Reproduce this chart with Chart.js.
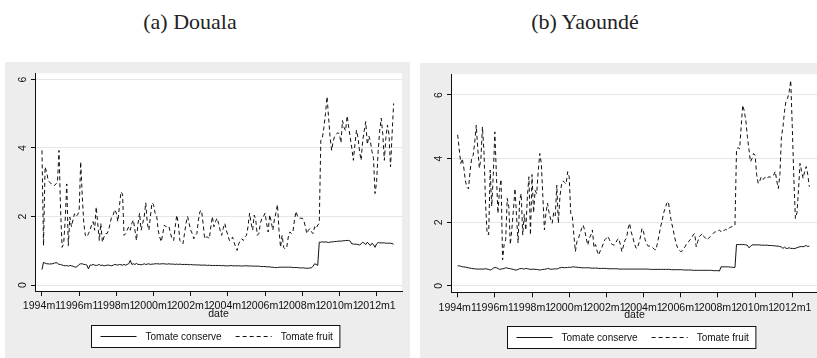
<!DOCTYPE html>
<html>
<head>
<meta charset="utf-8">
<script src="https://cdn.jsdelivr.net/npm/chart.js@4.4.1/dist/chart.umd.min.js"></script>
<style>
  html, body { margin: 0; padding: 0; background: #fff; overflow: hidden; }
  body { width: 817px; height: 358px; position: relative; }
  .title { position: absolute; top: 9px; font-family: "Liberation Serif", serif; font-size: 22px; color: #222; white-space: nowrap; transform: translateX(-50%); }
  canvas { position: absolute; background: #ededed; }
</style>
</head>
<body>
<div class="title" style="left:190px">(a) Douala</div>
<div class="title" style="left:585px">(b) Yaoundé</div>
<canvas id="douala" width="405" height="296" style="left:5px;top:62px"></canvas>
<canvas id="yaounde" width="398" height="295" style="left:420px;top:63px"></canvas>
<script>
"use strict";

// monthly dates, Stata style: 1994m1 ... 2012m12
const months = [];
for (let y = 1994; y <= 2012; y++) {
  for (let m = 1; m <= 12; m++) months.push(y + "m" + m);
}

const xTickLabels = ["1994m1", "1996m1", "1998m1", "2000m1", "2002m1",
  "2004m1", "2006m1", "2008m1", "2010m1", "2012m1"];
const yTicks = [0, 2, 4, 6];
const seriesNames = ["Tomate conserve", "Tomate fruit"];

// Douala
const doualaConserve = [
  0.45, 0.66, 0.64, 0.62, 0.62, 0.61, 0.62, 0.62, 0.64, 0.65, 0.64, 0.6,
  0.6, 0.58, 0.57, 0.56, 0.57, 0.55, 0.57, 0.56, 0.55, 0.53, 0.52, 0.55,
  0.6, 0.62, 0.62, 0.6, 0.6, 0.58, 0.47, 0.58, 0.58, 0.6, 0.58, 0.57,
  0.58, 0.6, 0.57, 0.58, 0.56, 0.57, 0.58, 0.58, 0.57, 0.56, 0.58, 0.6,
  0.59, 0.58, 0.6, 0.59, 0.58, 0.6, 0.58, 0.6, 0.62, 0.72, 0.6, 0.62,
  0.6, 0.63, 0.6, 0.6, 0.59, 0.6, 0.62, 0.6, 0.61, 0.62, 0.6, 0.61,
  0.61, 0.62, 0.62, 0.62, 0.61, 0.62, 0.62, 0.62, 0.61, 0.61, 0.62, 0.61,
  0.61, 0.61, 0.6, 0.61, 0.6, 0.61, 0.6, 0.6, 0.6, 0.6, 0.6, 0.59,
  0.6, 0.59, 0.59, 0.59, 0.58, 0.59, 0.58, 0.58, 0.58, 0.58, 0.58, 0.57,
  0.58, 0.57, 0.57, 0.57, 0.57, 0.57, 0.57, 0.57, 0.56, 0.57, 0.56, 0.56,
  0.56, 0.56, 0.57, 0.56, 0.56, 0.56, 0.56, 0.56, 0.56, 0.55, 0.56, 0.56,
  0.56, 0.56, 0.55, 0.56, 0.55, 0.55, 0.55, 0.55, 0.55, 0.54, 0.54, 0.54,
  0.54, 0.53, 0.53, 0.53, 0.52, 0.52, 0.51, 0.51, 0.51, 0.52, 0.52, 0.52,
  0.52, 0.52, 0.52, 0.52, 0.52, 0.52, 0.51, 0.51, 0.51, 0.51, 0.5, 0.5,
  0.5, 0.5, 0.49, 0.49, 0.49, 0.5, 0.5, 0.55, 0.62, 0.6, 0.57, 1.25,
  1.25, 1.26, 1.25, 1.26, 1.25, 1.24, 1.25, 1.26, 1.26, 1.27, 1.27, 1.28,
  1.28, 1.28, 1.29, 1.29, 1.3, 1.3, 1.3, 1.28, 1.2, 1.2, 1.19, 1.19,
  1.18, 1.17, 1.2, 1.25, 1.22, 1.18, 1.25, 1.2, 1.15, 1.22, 1.18, 1.1,
  1.2, 1.24, 1.23, 1.23, 1.23, 1.23, 1.22, 1.22, 1.22, 1.22, 1.21, 1.19
];
const doualaFruit = [
  3.93, 1.15, 3.45, 3.3, 3.05, 3.0, 2.95, 2.95, 2.9, 2.95, 3.0, 3.93,
  2.2, 1.1, 1.2, 1.9, 2.95, 1.15, 1.98, 1.7, 1.9, 2.08, 2.0, 2.05,
  2.15, 3.6, 2.6, 1.8, 1.45, 1.4, 1.5, 1.6, 1.75, 1.85, 1.6, 2.28,
  1.8, 1.3, 1.8, 1.25, 1.4, 1.5, 1.5, 1.6, 1.8, 2.0, 2.05, 2.2,
  2.1, 1.85, 2.3, 2.72, 2.65, 1.45, 1.5, 1.6, 1.7, 1.6, 1.8, 1.9,
  1.6, 1.3, 1.8, 2.1, 1.6, 1.8, 2.0, 2.4, 1.8, 1.6, 2.0, 2.4,
  2.35, 2.1, 2.04, 1.6, 1.4, 1.26, 1.5, 1.75, 1.7, 1.72, 1.7, 1.5,
  1.35, 1.3, 1.7, 2.04, 1.8, 1.3, 1.25, 1.2, 1.5, 1.8, 2.0, 1.8,
  1.6, 1.5, 1.35, 1.45, 1.5, 1.9, 2.15, 2.18, 1.8, 1.35, 1.4, 1.4,
  1.35, 1.7, 2.0, 1.7, 1.85, 1.95, 1.8, 1.6, 1.45, 1.65, 1.8, 1.6,
  1.45, 1.3, 1.3, 1.4, 1.25, 1.1, 1.01, 1.2, 1.3, 1.35, 1.3, 1.4,
  1.45, 1.7, 2.1, 1.8, 1.6, 2.04, 1.9, 1.45, 1.5, 1.8, 1.95, 2.0,
  2.1, 1.8, 1.55, 2.05, 1.85, 1.6, 1.9, 2.1, 2.35, 1.6, 1.1, 1.45,
  1.1, 1.05, 1.1, 1.4, 1.55, 1.5, 1.55, 1.9, 2.15, 2.0, 1.95, 1.95,
  1.95, 1.9, 1.7, 1.5, 1.6, 1.65, 1.55, 1.5, 1.7, 1.65, 1.75, 1.8,
  4.23, 4.3, 4.6, 5.0, 5.5, 4.9, 4.3, 3.93, 4.2, 4.35, 4.4, 4.45,
  4.4, 4.15, 4.8, 4.6, 4.5, 4.94, 4.6, 4.3, 4.0, 3.64, 4.1, 4.52,
  4.3, 3.9, 3.64, 4.2, 4.5, 4.77, 4.1, 4.35, 4.2, 3.9, 3.7, 2.67,
  3.0, 3.9, 4.5, 4.87, 4.4, 3.64, 4.3, 4.67, 4.4, 3.45, 4.4, 5.3
];

// Yaoundé
const yaoundeConserve = [
  0.63, 0.63, 0.62, 0.6, 0.6, 0.59, 0.58, 0.57, 0.56, 0.55, 0.54, 0.54,
  0.53, 0.53, 0.53, 0.53, 0.53, 0.53, 0.54, 0.53, 0.52, 0.5, 0.52, 0.56,
  0.58, 0.57, 0.55, 0.52, 0.53, 0.54, 0.55, 0.57, 0.56, 0.55, 0.54, 0.53,
  0.52, 0.5, 0.5, 0.52, 0.54, 0.55, 0.54, 0.53, 0.55, 0.54, 0.53, 0.52,
  0.52, 0.53, 0.52, 0.52, 0.51, 0.5, 0.51, 0.52, 0.52, 0.53, 0.55, 0.54,
  0.52, 0.53, 0.53, 0.54, 0.53, 0.55, 0.57, 0.58, 0.58, 0.57, 0.58, 0.58,
  0.59, 0.58, 0.6, 0.6, 0.59, 0.59, 0.58, 0.58, 0.57, 0.57, 0.57, 0.57,
  0.57, 0.57, 0.56, 0.56, 0.56, 0.56, 0.56, 0.55, 0.55, 0.55, 0.55, 0.55,
  0.55, 0.54, 0.54, 0.54, 0.54, 0.54, 0.54, 0.54, 0.53, 0.53, 0.53, 0.53,
  0.53, 0.53, 0.53, 0.53, 0.53, 0.53, 0.53, 0.53, 0.53, 0.53, 0.53, 0.53,
  0.53, 0.53, 0.53, 0.53, 0.52, 0.52, 0.52, 0.52, 0.52, 0.52, 0.52, 0.52,
  0.52, 0.52, 0.52, 0.52, 0.52, 0.52, 0.51, 0.51, 0.51, 0.51, 0.51, 0.51,
  0.51, 0.51, 0.5, 0.5, 0.5, 0.5, 0.5, 0.5, 0.49, 0.49, 0.49, 0.49,
  0.49, 0.49, 0.49, 0.49, 0.49, 0.49, 0.49, 0.49, 0.49, 0.48, 0.48, 0.48,
  0.48, 0.47, 0.6, 0.6, 0.6, 0.6, 0.6, 0.6, 0.59, 0.59, 0.58, 0.58,
  1.3, 1.3, 1.3, 1.3, 1.3, 1.3, 1.29, 1.28, 1.2, 1.24, 1.29, 1.29,
  1.29, 1.29, 1.29, 1.29, 1.28, 1.28, 1.28, 1.28, 1.28, 1.27, 1.27, 1.27,
  1.26, 1.26, 1.25, 1.25, 1.24, 1.22, 1.18, 1.22, 1.18, 1.18, 1.2, 1.18,
  1.18, 1.17, 1.18, 1.2, 1.22, 1.23, 1.24, 1.23, 1.25, 1.27, 1.24, 1.25
];
const yaoundeFruit = [
  4.75, 4.3, 3.85, 4.0, 3.7, 3.3, 3.1, 3.05, 3.6, 4.0, 4.1, 4.5,
  5.05, 4.3, 3.7, 4.0, 5.0, 4.2, 2.6, 1.65, 1.6, 3.64, 2.5, 3.5,
  4.84, 3.5, 2.28, 3.0, 3.35, 0.82, 1.3, 1.45, 2.75, 2.5, 1.3, 1.8,
  2.4, 3.06, 2.2, 1.35, 2.7, 2.9, 1.6, 2.25, 1.75, 2.8, 3.43, 1.6,
  3.5, 2.3, 3.0, 2.9, 3.6, 4.16, 3.85, 2.8, 1.76, 2.3, 2.6, 2.3,
  2.1, 1.97, 2.3, 2.2, 3.17, 1.97, 2.8, 3.17, 3.3, 3.25, 3.2, 3.59,
  3.43, 2.28, 2.2, 1.6, 1.08, 1.4, 1.5, 1.65, 1.8, 1.91, 1.75, 1.5,
  1.28, 1.5, 1.6, 1.76, 1.2, 1.3, 1.1, 0.97, 1.1, 1.2, 1.33, 1.45,
  1.5, 1.56, 1.45, 1.33, 1.3, 1.28, 1.35, 1.45, 1.49, 1.3, 1.08, 1.25,
  1.44, 1.5, 1.8, 1.97, 1.7, 1.54, 1.35, 1.2, 1.18, 1.35, 1.54, 1.81,
  1.7, 1.45, 1.33, 1.25, 1.25, 1.22, 1.2, 1.15, 1.13, 1.35, 1.6, 1.86,
  2.05, 2.3, 2.45, 2.6, 2.65, 2.3, 2.0, 1.8, 1.55, 1.33, 1.2, 1.12,
  1.08, 1.1, 1.18, 1.25, 1.35, 1.39, 1.45, 1.5, 1.6, 1.65, 1.23, 1.4,
  1.55, 1.6, 1.65, 1.55, 1.5, 1.44, 1.5, 1.55, 1.6, 1.65, 1.7, 1.7,
  1.72, 1.76, 1.7, 1.75, 1.74, 1.78, 1.75, 1.8, 1.85, 1.86, 1.88, 1.91,
  4.27, 4.35, 4.3, 5.0, 5.68, 5.5, 5.2, 4.7, 4.3, 3.9, 4.0, 4.16,
  4.1, 3.5, 3.22, 3.3, 3.43, 3.35, 3.38, 3.45, 3.4, 3.43, 3.42, 3.45,
  3.48, 3.6, 3.3, 3.06, 3.5, 4.68, 5.0, 5.5, 5.83, 5.9, 6.1, 6.46,
  5.0, 3.4, 2.12, 2.3, 3.0, 3.85, 3.6, 3.38, 3.6, 3.75, 3.5, 3.12
];

const FONT = '"Liberation Sans", Arial, sans-serif';
const INK = "#111";

// white plot region on the grey graph region
const plotRegion = {
  id: "plotRegion",
  beforeDraw(chart) {
    const { ctx, chartArea: a } = chart;
    ctx.save();
    ctx.fillStyle = "#fff";
    ctx.fillRect(a.left, a.top, a.right - a.left, a.bottom - a.top);
    ctx.restore();
  }
};

// boxed legend below the axis title
const boxLegend = {
  id: "boxLegend",
  afterDraw(chart) {
    const { ctx, chartArea: a } = chart;
    ctx.save();
    ctx.font = "10px " + FONT;
    const items = chart.data.datasets.map(ds => ({
      label: ds.label,
      dash: ds.borderDash || [],
      w: ctx.measureText(ds.label).width
    }));
    const padL = 9, lineLen = 36, gapText = 9, gapItem = 14, padR = 7, h = 22;
    let total = padL + padR;
    items.forEach((it, i) => { total += lineLen + gapText + it.w + (i ? gapItem : 0); });
    const cx = (a.left + a.right) / 2 - 3;
    const x0 = Math.round(cx - total / 2) + 0.5;
    const y0 = Math.round(a.bottom + 33.5) + 0.5;
    ctx.fillStyle = "#fff";
    ctx.fillRect(x0, y0, total, h);
    ctx.strokeStyle = INK;
    ctx.lineWidth = 1;
    ctx.strokeRect(x0, y0, total, h);
    let x = x0 + padL;
    const ym = y0 + h / 2;
    items.forEach((it, i) => {
      if (i) x += gapItem;
      ctx.setLineDash(it.dash);
      ctx.beginPath();
      ctx.moveTo(x, ym);
      ctx.lineTo(x + lineLen, ym);
      ctx.stroke();
      ctx.setLineDash([]);
      x += lineLen + gapText;
      ctx.fillStyle = INK;
      ctx.textBaseline = "middle";
      ctx.fillText(it.label, x, ym + 0.5);
      x += it.w;
    });
    ctx.restore();
  }
};

function drawPanel(id, conserve, fruit, opt) {
  const toPts = arr => arr.map((v, i) => ({ x: i, y: v }));
  new Chart(document.getElementById(id), {
    type: "line",
    data: {
      datasets: [
        { label: seriesNames[0], data: toPts(conserve), borderColor: INK, borderWidth: 1, pointRadius: 0, tension: 0 },
        { label: seriesNames[1], data: toPts(fruit), borderColor: INK, borderWidth: 1, borderDash: [4, 3], pointRadius: 0, tension: 0 }
      ]
    },
    options: {
      responsive: false,
      animation: false,
      events: [],
      layout: { padding: { top: 11, right: opt.padRight, bottom: opt.padBottom, left: 0 } },
      plugins: { legend: { display: false }, tooltip: { enabled: false } },
      scales: {
        x: {
          type: "linear",
          min: opt.xMin,
          max: opt.xMax,
          afterBuildTicks: s => { s.ticks = xTickLabels.map(l => ({ value: months.indexOf(l) })); },
          afterFit: s => { s.height = 29; },
          ticks: {
            autoSkip: false, minRotation: 0, maxRotation: 0, padding: 4,
            color: INK, font: { family: FONT, size: 10.6 },
            callback: v => months[v]
          },
          grid: { drawOnChartArea: false, tickLength: 5, tickColor: INK },
          border: { color: INK },
          title: { display: true, text: "date", color: INK, padding: { top: 0, bottom: 0 }, font: { family: FONT, size: 10.5 } }
        },
        y: {
          min: opt.yMin,
          max: opt.yMax,
          afterBuildTicks: s => { s.ticks = yTicks.map(v => ({ value: v })); },
          afterFit: s => { s.width = opt.yWidth; },
          ticks: {
            minRotation: 90, maxRotation: 90, crossAlign: "center", padding: 5,
            color: INK, font: { family: FONT, size: 10.5 }
          },
          grid: { color: "#e6e6e6", tickColor: INK, tickLength: 4 },
          border: { color: INK }
        }
      }
    },
    plugins: [plotRegion, boxLegend]
  });
}

drawPanel("douala", doualaConserve, doualaFruit,
  { xMin: -4.5, xMax: 232.4, yMin: -0.175, yMax: 6.18, yWidth: 30, padRight: 8, padBottom: 38 });
drawPanel("yaounde", yaoundeConserve, yaoundeFruit,
  { xMin: -4.3, xMax: 232.6, yMin: -0.2, yMax: 6.65, yWidth: 31, padRight: 0, padBottom: 36.7 });
</script>
</body>
</html>
